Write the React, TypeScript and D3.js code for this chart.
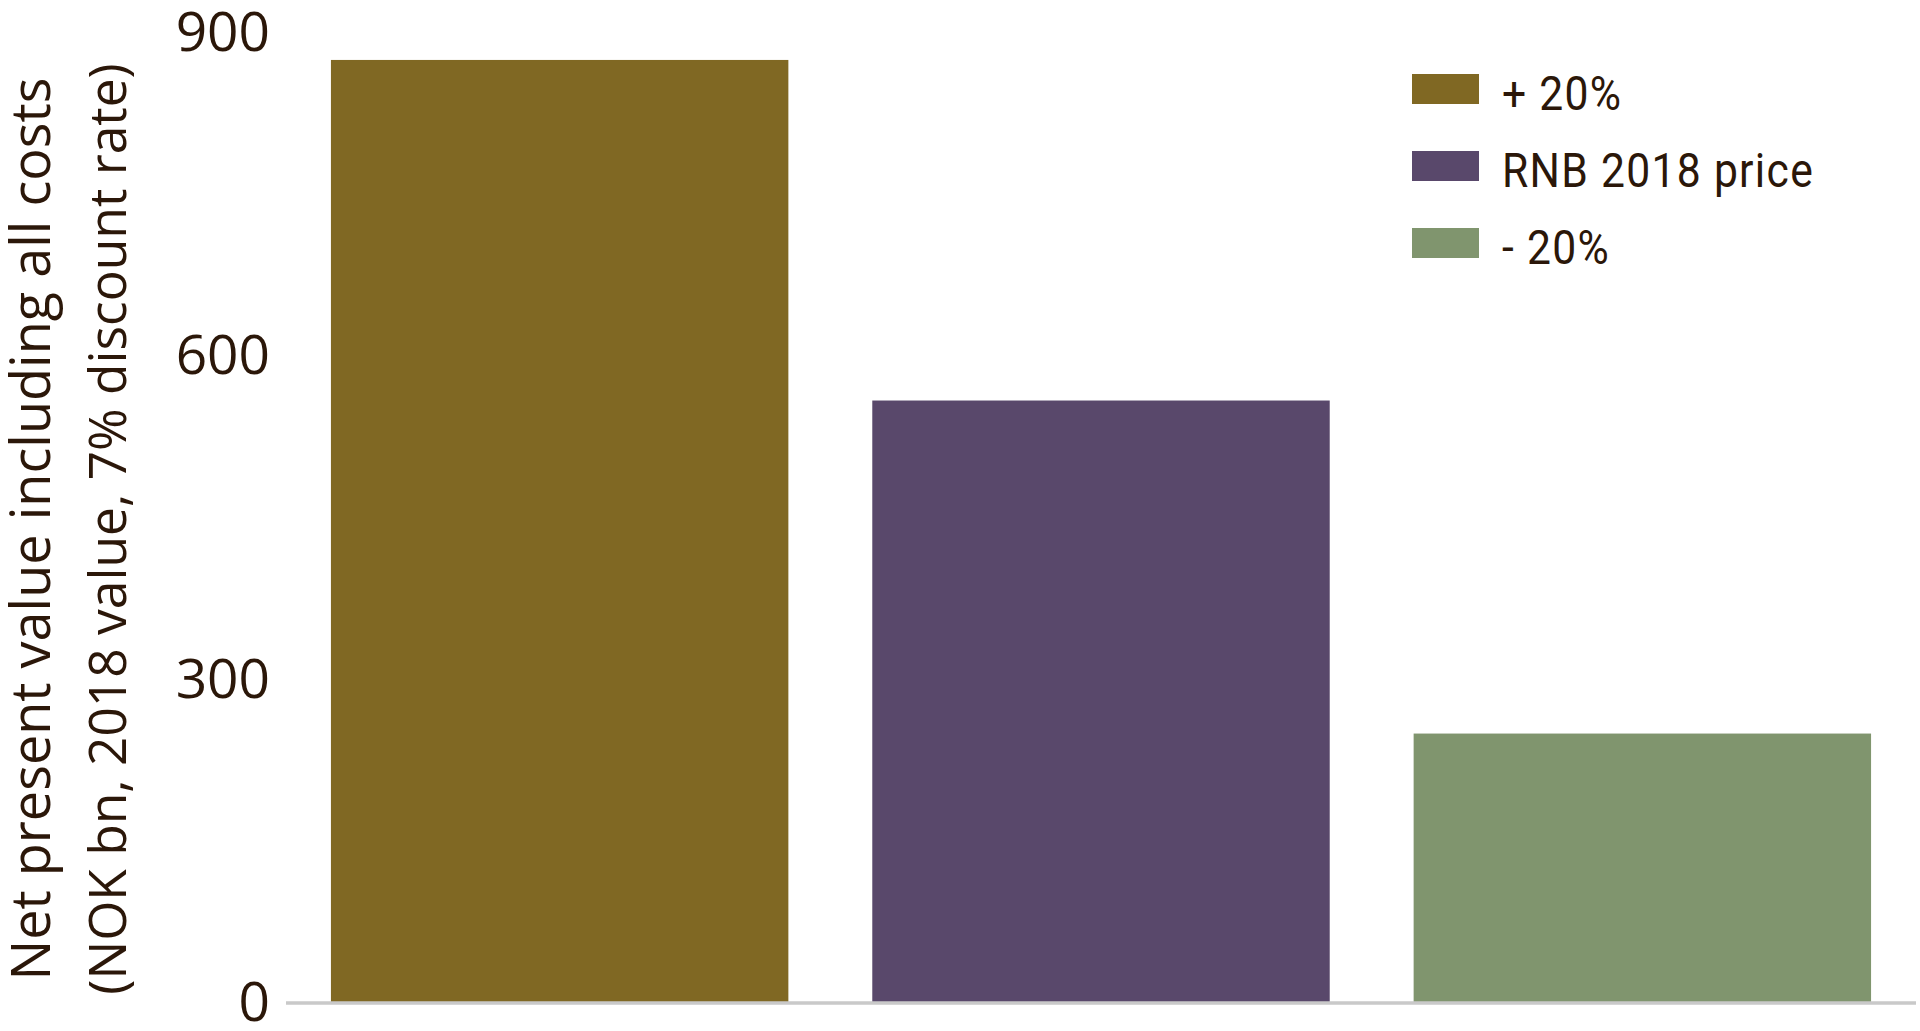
import React, { useEffect, useRef } from 'react';
import * as d3 from 'd3';

// scenario labels (legend + bars)
const scenarios = ['+ 20%', 'RNB 2018 price', '- 20%'];
// net present value, NOK bn
const npvValues = [875, 559, 250];
const yTicks = [0, 300, 600, 900];
const titleLines = [
  'Net present value including all costs',
  '(NOK bn, 2018 value, 7% discount rate)',
];
const palette = ['#806823', '#59486b', '#80956e'];

const App = () => {
  const ref = useRef<SVGSVGElement>(null);

  useEffect(() => {
    document.body.style.margin = '0';
    const width = 1920;
    const height = 1031;
    const textColor = '#2b1709';

    const svg = d3.select(ref.current);
    svg.selectAll('*').remove();
    svg.attr('width', width).attr('height', height);

    const x = d3.scaleBand()
      .domain(scenarios)
      .range([286, 1916])
      .paddingInner(0.155)
      .paddingOuter(0.083);

    const y = d3.scaleLinear().domain([0, 900]).range([1003, 33]);

    // bars
    svg.append('g')
      .selectAll('rect')
      .data(npvValues)
      .join('rect')
      .attr('x', (d, i) => x(scenarios[i]))
      .attr('y', d => y(d))
      .attr('width', x.bandwidth())
      .attr('height', d => y(0) - y(d))
      .attr('fill', (d, i) => palette[i]);

    // baseline
    svg.append('line')
      .attr('x1', x.range()[0])
      .attr('x2', x.range()[1])
      .attr('y1', y(0))
      .attr('y2', y(0))
      .attr('stroke', '#c9c9c9')
      .attr('stroke-width', 3.5);

    // y axis labels
    const yAxis = svg.append('g')
      .attr('transform', 'translate(270,0)')
      .call(d3.axisLeft(y).tickValues(yTicks).tickSize(0).tickPadding(0));
    yAxis.select('.domain').remove();
    yAxis.selectAll('text')
      .attr('fill', textColor)
      .style('font-family', "'Open Sans', sans-serif")
      .style('font-size', '55px');

    // axis title, two rotated lines
    const titleX = [50, 126];
    const titleSize = [54, 51.5];
    svg.append('g')
      .selectAll('text')
      .data(titleLines)
      .join('text')
      .attr('transform', (d, i) => `translate(${titleX[i]},529) rotate(-90)`)
      .attr('text-anchor', 'middle')
      .attr('fill', textColor)
      .style('font-family', "'Open Sans', sans-serif")
      .style('font-size', (d, i) => `${titleSize[i]}px`)
      .text(d => d);

    // legend
    const legend = svg.append('g')
      .selectAll('g')
      .data(scenarios)
      .join('g')
      .attr('transform', (d, i) => `translate(1412,${74 + i * 77})`);
    legend.append('rect')
      .attr('width', 67)
      .attr('height', 30)
      .attr('fill', (d, i) => palette[i]);
    // condensed look: squeeze the label horizontally
    legend.append('text')
      .attr('transform', 'translate(90,36) scale(0.87,1)')
      .attr('fill', textColor)
      .style('font-family', 'Roboto, sans-serif')
      .style('font-size', '49px')
      .style('letter-spacing', '1.5px')
      .text(d => d);
  }, []);

  return <svg ref={ref} style={{ display: 'block', width: 1920, height: 1031 }} />;
};

export default App;
